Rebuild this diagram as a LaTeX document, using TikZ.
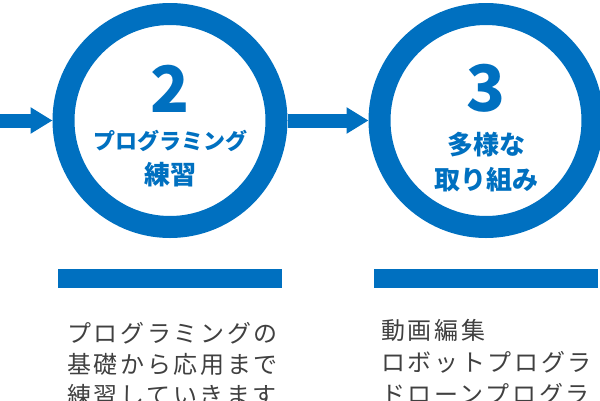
\documentclass[tikz,border=0pt]{standalone}
\usepackage{fontspec}
\usetikzlibrary{arrows.meta}
\newfontfamily\jp{Noto Sans CJK JP}
\newfontfamily\jpbody[LetterSpace=11]{Noto Sans CJK JP}
\definecolor{mblue}{RGB}{0,112,192}
\definecolor{mgray}{RGB}{64,64,64}
\begin{document}
\begin{tikzpicture}[x=1pt,y=-1pt,
  ring/.style={circle, draw=mblue, line width=22pt, minimum size=213pt, inner sep=0pt},
  flow/.style={draw=mblue, line width=14pt, -{Triangle[length=22pt,width=25pt]}},
  bigdigit/.style={text=mblue, inner sep=0pt, font=\jp\bfseries\fontsize{64}{64}\selectfont},
  titlesm/.style={text=mblue, inner sep=0pt, font=\jp\bfseries\fontsize{22}{22}\selectfont},
  titlelg/.style={text=mblue, inner sep=0pt, font=\jp\bfseries\fontsize{26}{26}\selectfont},
  bar/.style={fill=mblue, draw=none, minimum width=224pt, minimum height=19pt, inner sep=0pt},
  body/.style={text=mgray, inner sep=0pt, anchor=base west, font=\jpbody\fontsize{24}{24}\selectfont}]
\useasboundingbox (0,0) rectangle (600,400);
\clip (0,0) rectangle (600,400);
% circles
\node[ring] (c2) at (170,120.5) {};
\node[ring] (c3) at (486,120.5) {};
% arrows
\coordinate (start) at (0,120.5);
\draw[flow] (start) -- (c2.west);
\draw[flow] (c2.east) -- (c3.west);
% circle texts
\node[bigdigit] (n2) at (170,88.5) {2};
\node[titlesm] (t2a) at (170,141) {プログラミング};
\node[titlelg] (t2b) at (170,174.5) {練習};
\node[bigdigit] (n3) at (486,88.5) {3};
\node[titlelg] (t3a) at (486,145) {多様な};
\node[titlelg] (t3b) at (486,179.5) {取り組み};
% bars
\node[bar] (b2) at (170,278.5) {};
\node[bar] (b3) at (486,278.5) {};
% body texts
\node[body] (d2a) at (67,342) {プログラミングの};
\node[body] (d2b) at (67,373) {基礎から応用まで};
\node[body] (d2c) at (67,404) {練習していきます};
\node[body] (d3a) at (381,339) {動画編集};
\node[body] (d3b) at (381,371) {ロボットプログラ};
\node[body] (d3c) at (381,403) {ドローンプログラ};
\end{tikzpicture}
\end{document}
